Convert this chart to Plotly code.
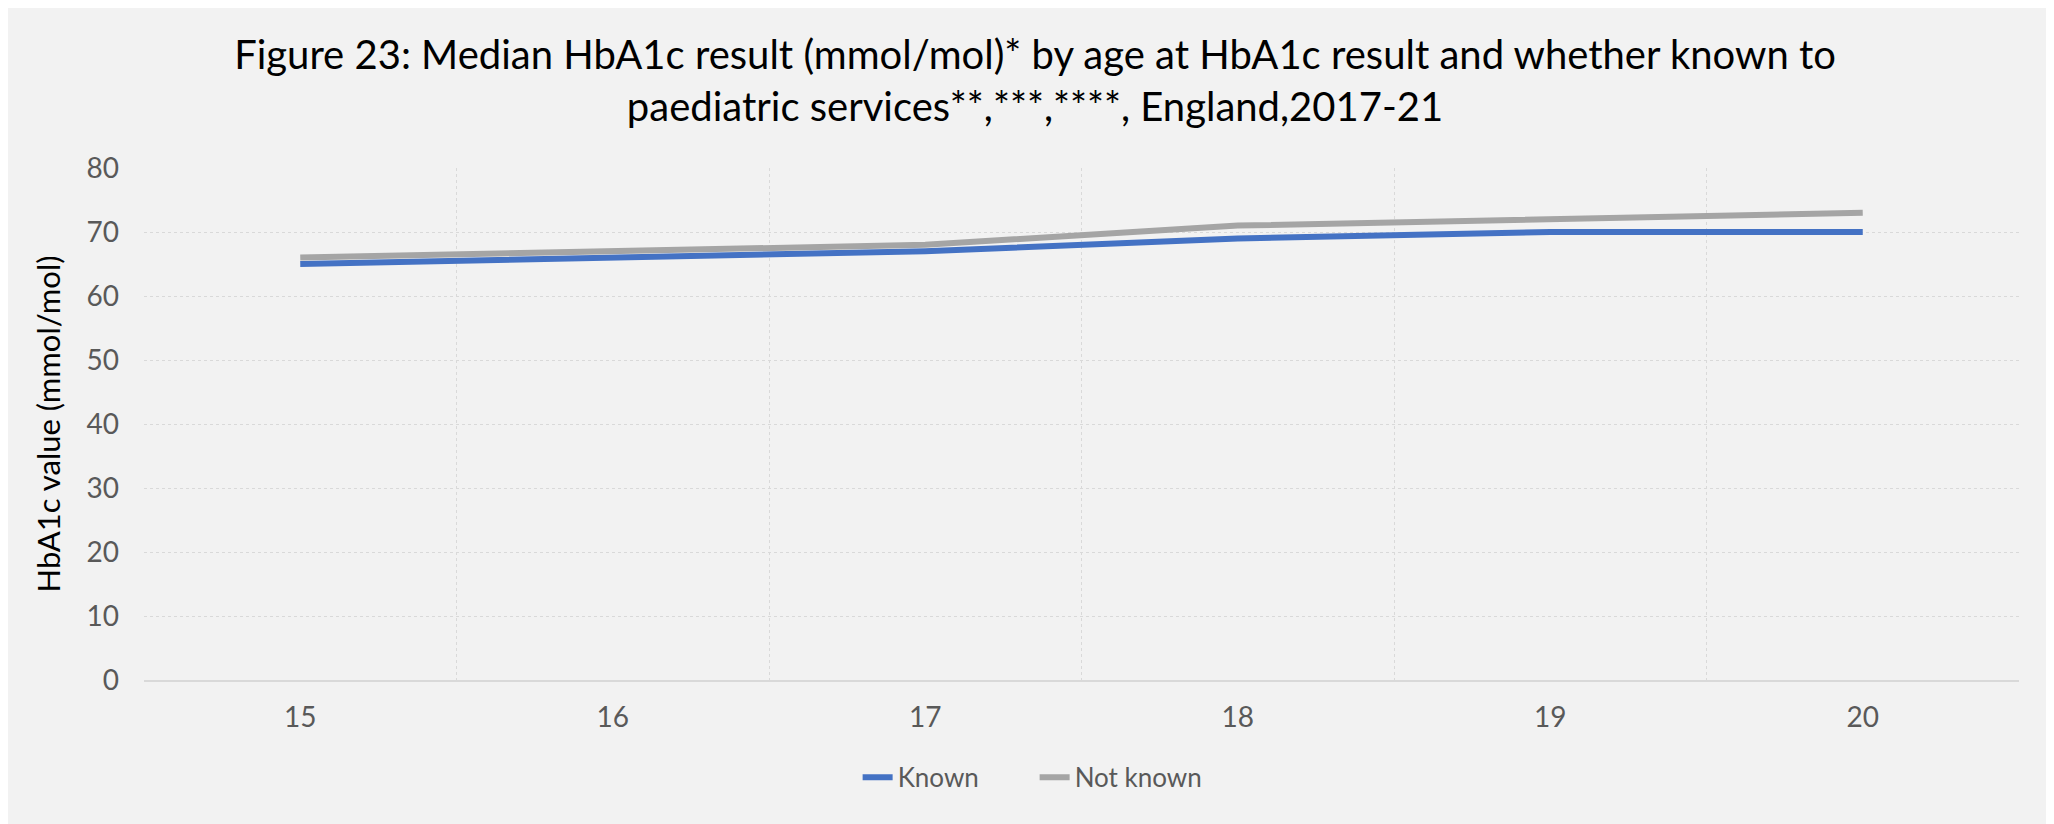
import plotly.graph_objects as go  # For the line chart

# Data
ages = ["15", "16", "17", "18", "19", "20"]
known = [65, 66, 67, 69, 70, 70]
not_known = [66, 67, 68, 71, 72, 73]

title_text = ("Figure 23: Median HbA1c result (mmol/mol)* by age at HbA1c result and whether known to"
              "<br>paediatric services**,***,****, England,2017-21")

fig = go.Figure()
fig.add_trace(go.Scatter(x=ages, y=known, mode="lines", name="Known",
                         line=dict(color="#4472C4", width=6)))
fig.add_trace(go.Scatter(x=ages, y=not_known, mode="lines", name="Not known",
                         line=dict(color="#A5A5A5", width=6)))

fig.update_layout(
    width=2054, height=824,
    paper_bgcolor="#F2F2F2", plot_bgcolor="#F2F2F2",
    margin=dict(l=136, r=43, t=160, b=152),
    font=dict(family="Lato", size=28, color="#595959"),
    title=dict(text=title_text, x=0.5, xanchor="center", y=1 - 61 / 824, yanchor="middle",
               yref="container", font=dict(family="Lato", size=40, color="#000000")),
    legend=dict(orientation="h", x=0.475, xanchor="center", y=-0.19, yanchor="middle",
                entrywidth=132, font=dict(size=26, color="#595959")),
    showlegend=True,
)

# Category axis with gridlines between the ages (Excel style)
fig.update_xaxes(type="category", range=[-0.5, 5.5], tickson="boundaries",
                 showgrid=True, gridcolor="#D9D9D9", griddash="dot", gridwidth=1,
                 showline=True, linecolor="#D9D9D9", linewidth=2,
                 ticks="", ticklabelstandoff=11)
fig.update_yaxes(range=[0, 80], dtick=10, showgrid=True, gridcolor="#D9D9D9",
                 griddash="dot", gridwidth=1, zeroline=False, ticks="", ticklabelstandoff=24,
                 title=dict(text="HbA1c value (mmol/mol)", standoff=16,
                            font=dict(size=31, color="#000000")))

fig.write_html("out.html")
